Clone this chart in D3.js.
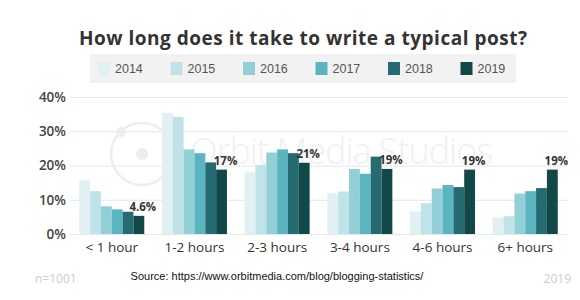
<!DOCTYPE html>
<html>
<head>
<meta charset="utf-8">
<script src="https://cdn.jsdelivr.net/npm/d3@7"></script>
<style>
  body { margin: 0; background: #fff; }
  svg { display: block; font-family: "Open Sans", sans-serif; }
</style>
</head>
<body>
<svg id="chart" width="580" height="300"></svg>
<script>
const categories = ['< 1 hour', '1-2 hours', '2-3 hours', '3-4 hours', '4-6 hours', '6+ hours'];
const years = ['2014', '2015', '2016', '2017', '2018', '2019'];
const yearColors = ['#e0f0f3', '#bfe3e8', '#93cfd6', '#5bb5c0', '#256c72', '#134849'];

// share of bloggers per year (%)
const v2014 = [15.7, 35.4, 18.0, 11.9, 6.6, 4.8];
const v2015 = [12.5, 34.2, 20.2, 12.4, 9.0, 5.2];
const v2016 = [8.1, 24.7, 23.8, 19.0, 13.3, 11.8];
const v2017 = [7.2, 23.6, 24.7, 17.6, 14.3, 12.5];
const v2018 = [6.5, 20.9, 23.6, 22.6, 13.7, 13.4];
const v2019 = [5.3, 18.8, 20.8, 19.0, 18.8, 18.8];
const labels2019 = ['4.6%', '17%', '21%', '19%', '19%', '19%'];
const yTicks = [0, 10, 20, 30, 40];

const series = [v2014, v2015, v2016, v2017, v2018, v2019];
const data = categories.map((c, i) => ({
  cat: c,
  vals: years.map((y, j) => ({year: y, value: series[j][i]})),
  label: labels2019[i]
}));

const svg = d3.select('#chart');

const x = d3.scaleBand().domain(categories).range([70, 567]).paddingInner(0.214).paddingOuter(0.112);
const xi = d3.scaleBand().domain(years).range([0, x.bandwidth()]);
const y = d3.scaleLinear().domain([0, 40]).range([234, 97]);
const color = d3.scaleOrdinal().domain(years).range(yearColors);

// watermark
const wm = svg.append('g').attr('class', 'watermark');
wm.append('circle').attr('cx', 142).attr('cy', 154).attr('r', 31)
  .attr('fill', 'none').attr('stroke', '#eeeeee').attr('stroke-width', 2.5);
wm.append('circle').attr('cx', 142).attr('cy', 154).attr('r', 6).attr('fill', '#eeeeee');
wm.append('circle').attr('cx', 121).attr('cy', 132).attr('r', 5).attr('fill', '#eeeeee');
wm.append('text').attr('x', 190).attr('y', 164)
  .attr('font-size', 36).attr('font-weight', 300).attr('fill', '#f0f0f0')
  .attr('textLength', 303).text('Orbit Media Studios');

// gridlines + y labels
const yAxis = svg.append('g').attr('transform', 'translate(70,0)')
  .call(d3.axisLeft(y).tickValues(yTicks).tickFormat(d => d + '%').tickSize(-497).tickPadding(4));
yAxis.select('.domain').remove();
yAxis.selectAll('.tick line').attr('stroke', '#e6e6e6');
yAxis.selectAll('.tick text').attr('font-size', 13.5).attr('font-weight', 600).attr('fill', '#444')
  .attr('font-family', '"Open Sans", sans-serif');

// bars
const groups = svg.append('g').selectAll('g')
  .data(data)
  .join('g')
  .attr('transform', d => `translate(${x(d.cat)},0)`);

groups.selectAll('rect')
  .data(d => d.vals)
  .join('rect')
  .attr('x', d => xi(d.year))
  .attr('y', d => y(d.value))
  .attr('width', xi.bandwidth())
  .attr('height', d => y(0) - y(d.value))
  .attr('fill', d => color(d.year));

groups.append('text')
  .attr('x', xi('2019') + xi.bandwidth() / 2 + 4)
  .attr('y', d => y(d.vals[5].value) - 5)
  .attr('text-anchor', 'middle')
  .attr('font-size', 11.5).attr('font-weight', 700).attr('fill', '#333')
  .text(d => d.label);

// x labels
const xAxis = svg.append('g').attr('transform', 'translate(0,234)')
  .call(d3.axisBottom(x).tickSize(0).tickPadding(8));
xAxis.select('.domain').remove();
xAxis.selectAll('.tick text').attr('font-size', 13.5).attr('font-weight', 500).attr('fill', '#333')
  .attr('font-family', '"Open Sans", sans-serif');

// title
svg.append('text').attr('x', 303).attr('y', 45).attr('text-anchor', 'middle')
  .attr('font-size', 19).attr('font-weight', 700).attr('fill', '#333')
  .attr('textLength', 448).attr('lengthAdjust', 'spacing')
  .text('How long does it take to write a typical post?');

// legend
svg.append('rect').attr('x', 90).attr('y', 54).attr('width', 426).attr('height', 29).attr('fill', '#f2f2f2');
const leg = svg.append('g').selectAll('g')
  .data(years)
  .join('g')
  .attr('transform', (d, i) => `translate(${98 + i * 72.5},62)`);
leg.append('rect').attr('width', 12).attr('height', 13).attr('fill', d => color(d));
leg.append('text').attr('x', 17).attr('y', 11).attr('font-size', 12.5)
  .attr('font-family', '"Liberation Sans", Arial, sans-serif').attr('fill', '#555').text(d => d);

// footer
svg.append('text').attr('x', 35).attr('y', 283).attr('font-size', 12).attr('fill', '#cccccc').text('n=1001');
svg.append('text').attr('x', 571).attr('y', 283).attr('text-anchor', 'end').attr('font-size', 12).attr('fill', '#cccccc').text('2019');
svg.append('text').attr('x', 277).attr('y', 280).attr('text-anchor', 'middle').attr('font-size', 11)
  .attr('font-family', '"Liberation Sans", Arial, sans-serif').attr('fill', '#111')
  .text('Source: https://www.orbitmedia.com/blog/blogging-statistics/');
</script>
</body>
</html>
